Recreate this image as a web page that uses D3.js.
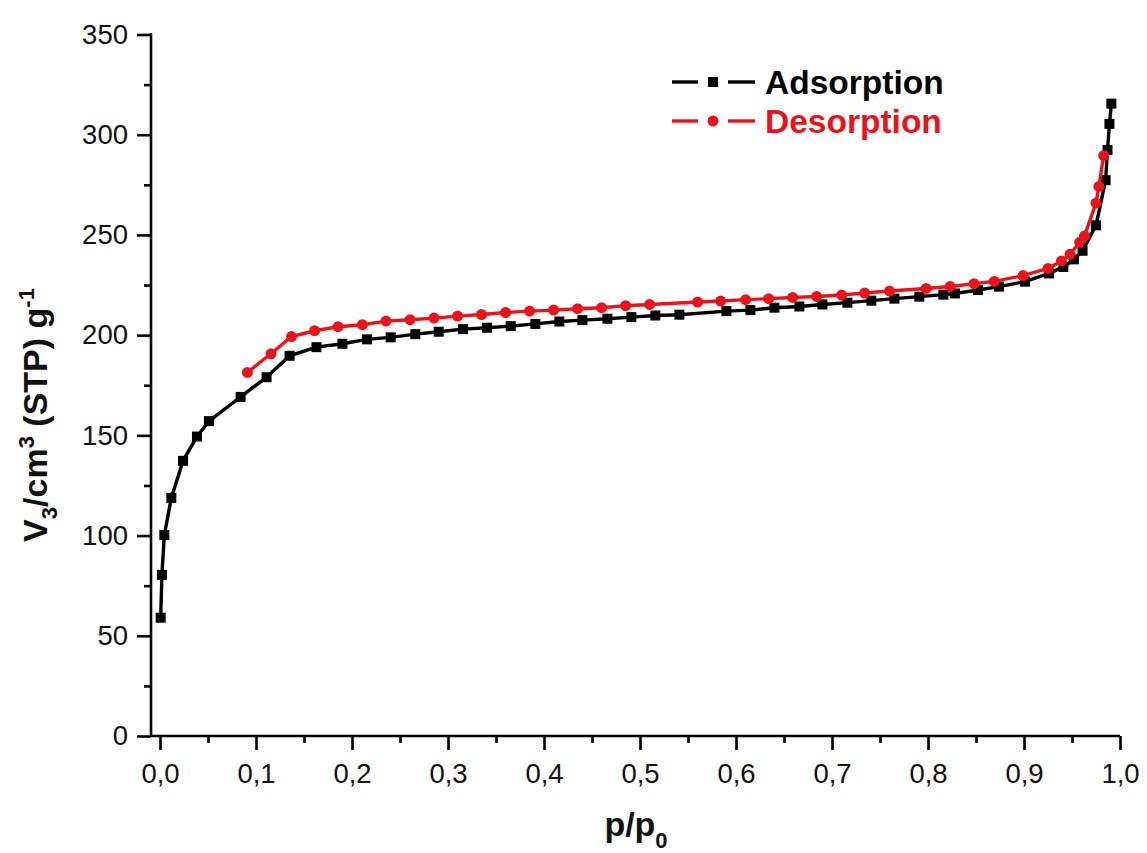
<!DOCTYPE html>
<html><head><meta charset="utf-8">
<script src="https://cdn.jsdelivr.net/npm/d3@7"></script>
<style>body{margin:0;background:#fff}svg{display:block}</style>
</head><body>
<svg id="c" width="1147" height="853"></svg>
<script>
const adsX = [0.0007,0.002,0.0045,0.0118,0.024,0.0385,0.051,0.084,0.111,0.135,0.163,0.19,0.2156,0.2403,0.266,0.2903,0.3156,0.3406,0.3653,0.391,0.416,0.44,0.466,0.491,0.516,0.541,0.59,0.615,0.64,0.666,0.69,0.716,0.741,0.765,0.791,0.816,0.828,0.852,0.874,0.901,0.926,0.941,0.952,0.961,0.975,0.985,0.987,0.989,0.991];
const adsY = [59,80.4,100.3,118.8,137.3,149.4,157.1,169.2,179,189.7,194,195.7,197.9,198.9,200.5,201.7,203,203.7,204.5,205.6,206.8,207.5,208.2,209,209.8,210.2,212,212.5,213.7,214.3,215.3,216.2,217.2,218.2,219.2,220.2,220.8,222.5,224.2,226.7,230.8,234,237.8,242.1,254.8,277.3,292.4,305.4,315.5];
const desX = [0.091,0.1156,0.137,0.161,0.1854,0.2108,0.2354,0.2604,0.2854,0.31,0.335,0.36,0.385,0.41,0.435,0.46,0.485,0.51,0.56,0.584,0.61,0.634,0.659,0.684,0.71,0.734,0.76,0.798,0.823,0.848,0.869,0.899,0.925,0.939,0.948,0.958,0.963,0.975,0.978,0.983];
const desY = [181.4,190.7,199.3,202.2,204.2,205.2,207,207.7,208.5,209.5,210.3,211.3,212,212.5,213.2,213.7,214.7,215.3,216.5,217,217.7,218.2,218.8,219.3,220,221,222,223.3,224.3,225.7,226.8,229.7,233.3,237,240.3,246.3,249.5,265.9,274.2,289.6];
const xTicks = [0,0.1,0.2,0.3,0.4,0.5,0.6,0.7,0.8,0.9,1.0];
const yTicks = [0,50,100,150,200,250,300,350];
const seriesNames = ["Adsorption","Desorption"];
const colors = ["#000000","#e8141b"];

const svg = d3.select("#c");
const font = "'Liberation Sans', Arial, sans-serif";
const axisX0 = 151;
const x = d3.scaleLinear().domain([0, 1.0]).range([160, 1120]);
const y = d3.scaleLinear().domain([0, 350]).range([736, 34.5]);

// axes
const xAxis = d3.axisBottom(x).tickValues(xTicks).tickSize(14).tickPadding(13)
  .tickFormat(d => d3.format(".1f")(d).replace(".", ","));
const xMinor = d3.axisBottom(x).tickValues(d3.range(0.05, 1.0, 0.1)).tickSize(7).tickFormat("");
const yAxis = d3.axisLeft(y).tickValues(yTicks).tickSize(14).tickPadding(9);
const yMinor = d3.axisLeft(y).tickValues(d3.range(25, 350, 50)).tickSize(7).tickFormat("");

function styleAxis(g){
  g.select(".domain").attr("stroke","#000").attr("stroke-width",2.6);
  g.selectAll(".tick line").attr("stroke","#000").attr("stroke-width",2.6);
  g.selectAll(".tick text").attr("fill","#111").style("font-family",font).style("font-size","27.5px");
}
svg.append("g").attr("transform","translate(0,736)").call(xMinor).call(styleAxis).select(".domain").remove();
svg.append("g").attr("transform",`translate(${axisX0},0)`).call(yMinor).call(styleAxis).select(".domain").remove();
const gx = svg.append("g").attr("transform","translate(0,736)").call(xAxis).call(styleAxis);
gx.select(".domain").attr("d", `M${axisX0},0H${x.range()[1]}`);
const gy = svg.append("g").attr("transform",`translate(${axisX0},0)`).call(yAxis).call(styleAxis);
gy.select(".domain").attr("d", `M0,${y.range()[0]}V33`);

// axis titles
const xt = svg.append("text").attr("x",636).attr("y",836).attr("text-anchor","middle")
  .style("font-family",font).style("font-weight","bold").style("font-size","34px").attr("fill","#111");
xt.append("tspan").text("p/p");
xt.append("tspan").attr("dy",12).style("font-size","22px").text("0");

const yt = svg.append("text").attr("transform","translate(47,415) rotate(-90)").attr("text-anchor","middle")
  .style("font-family",font).style("font-weight","bold").style("font-size","34px").attr("fill","#111");
yt.append("tspan").text("V");
yt.append("tspan").attr("dy",10).style("font-size","22px").text("3");
yt.append("tspan").attr("dy",-10).text("/cm");
yt.append("tspan").attr("dy",-13).style("font-size","22px").text("3");
yt.append("tspan").attr("dy",13).text(" (STP) g");
yt.append("tspan").attr("dy",-13).style("font-size","22px").text("-1");

// series
const ads = adsX.map((v,i)=>[v,adsY[i]]);
const des = desX.map((v,i)=>[v,desY[i]]);
const line = d3.line().x(d=>x(d[0])).y(d=>y(d[1]));

svg.append("path").datum(ads).attr("d",line).attr("fill","none").attr("stroke",colors[0]).attr("stroke-width",3.4);
svg.append("g").selectAll("rect").data(ads).join("rect")
  .attr("x",d=>x(d[0])-5).attr("y",d=>y(d[1])-5).attr("width",10).attr("height",10).attr("fill",colors[0]);

svg.append("path").datum(des).attr("d",line).attr("fill","none").attr("stroke",colors[1]).attr("stroke-width",3.4);
svg.append("g").selectAll("circle").data(des).join("circle")
  .attr("cx",d=>x(d[0])).attr("cy",d=>y(d[1])).attr("r",5.5).attr("fill",colors[1]);

// legend
const leg = svg.append("g");
seriesNames.forEach((name,i)=>{
  const cy = 82 + i*39;
  const g = leg.append("g");
  g.append("line").attr("x1",672).attr("x2",698).attr("y1",cy).attr("y2",cy).attr("stroke",colors[i]).attr("stroke-width",3.4);
  g.append("line").attr("x1",728).attr("x2",755).attr("y1",cy).attr("y2",cy).attr("stroke",colors[i]).attr("stroke-width",3.4);
  if(i===0) g.append("rect").attr("x",708).attr("y",cy-5).attr("width",10).attr("height",10).attr("fill",colors[i]);
  else g.append("circle").attr("cx",713).attr("cy",cy).attr("r",5.5).attr("fill",colors[i]);
  g.append("text").attr("x",765).attr("y",cy+12).text(name)
    .style("font-family",font).style("font-weight","bold").style("font-size","33.5px").attr("fill",colors[i]);
});
</script>
</body></html>
